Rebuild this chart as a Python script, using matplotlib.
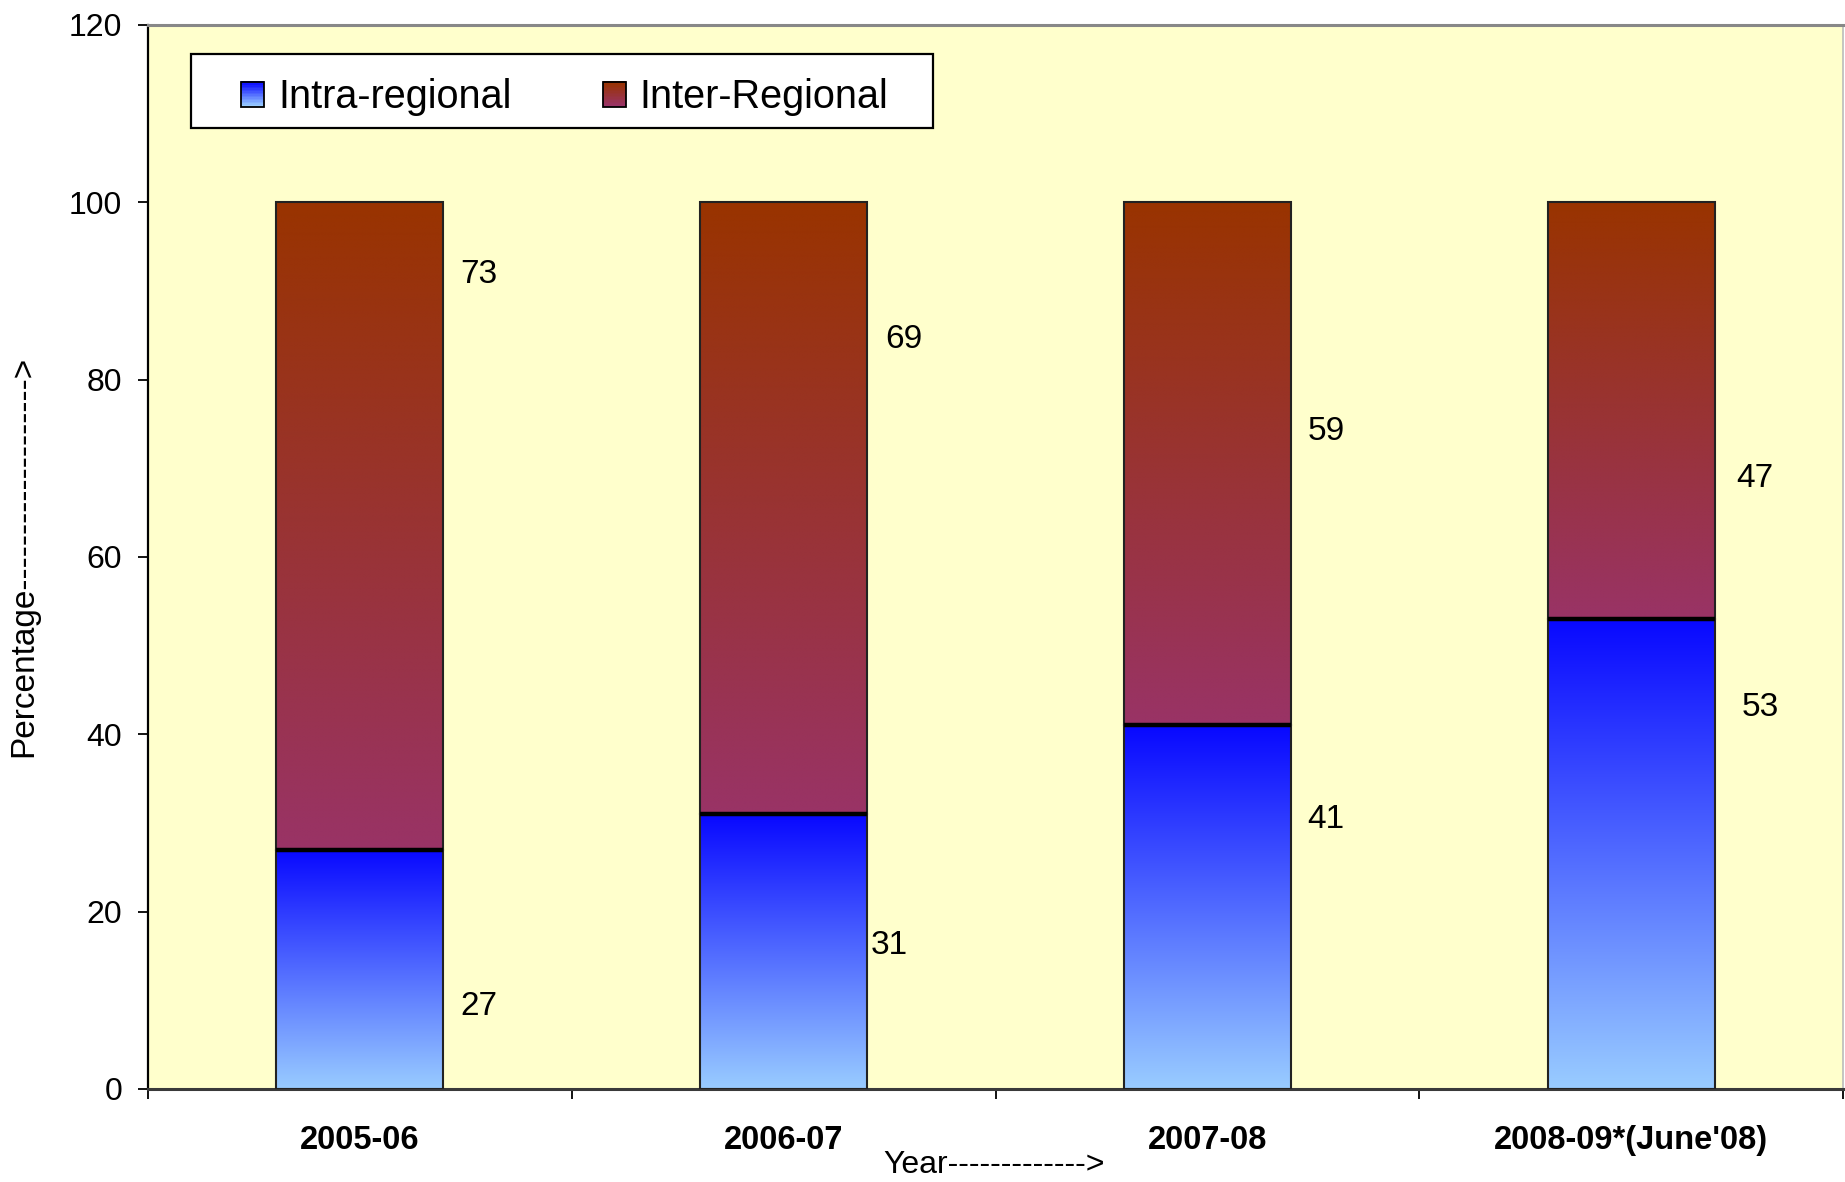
import numpy as np
import matplotlib
matplotlib.use('Agg')
import matplotlib.pyplot as plt
from matplotlib.patches import Rectangle
from matplotlib.legend_handler import HandlerBase
from matplotlib.colors import to_rgb

plt.rcParams['font.family'] = ['Liberation Sans', 'DejaVu Sans']

# Share of trade by year (percent)
years = ['2005-06', '2006-07', '2007-08', "2008-09*(June'08)"]
intra = [27, 31, 41, 53]
inter = [73, 69, 59, 47]

# where the value labels sit (y in data units, x offset from bar edge)
intra_label_y = [9.3, 16.2, 30.4, 43.0]
inter_label_y = [91.9, 84.5, 74.1, 68.8]
intra_label_dx = [0.039, 0.008, 0.039, 0.064]
inter_label_dx = [0.039, 0.042, 0.039, 0.050]

BLUE_TOP, BLUE_BOT = '#0808FF', '#99CCFF'
RED_TOP, RED_BOT = '#993300', '#993366'
BG = '#FFFFCC'


def gradient(top, bottom, n=256):
    t = np.linspace(0, 1, n)[:, None]
    c0, c1 = np.array(to_rgb(top)), np.array(to_rgb(bottom))
    return (c0 * (1 - t) + c1 * t)[:, None, :]


class GradientHandler(HandlerBase):
    def __init__(self, top, bottom):
        super().__init__()
        self.top, self.bottom = top, bottom

    def create_artists(self, legend, orig_handle, xdescent, ydescent,
                       width, height, fontsize, trans):
        n = 16
        c0, c1 = np.array(to_rgb(self.top)), np.array(to_rgb(self.bottom))
        arts = []
        for i in range(n):
            t = i / (n - 1)
            col = c1 * (1 - t) + c0 * t
            r = Rectangle((-xdescent, -ydescent + height * i / n), width, height / n + 0.3,
                          facecolor=col, edgecolor='none', transform=trans)
            arts.append(r)
        arts.append(Rectangle((-xdescent, -ydescent), width, height, fill=False,
                              edgecolor='black', linewidth=1.3, transform=trans))
        return arts


fig = plt.figure(figsize=(18.45, 11.82), dpi=100)
ax = fig.add_axes([0.0802, 0.0787, 0.9188, 0.9003])
ax.set_facecolor(BG)

x = np.arange(len(years))
w = 0.394

bars_intra = ax.bar(x, intra, w, facecolor='none', edgecolor='#222222', linewidth=1.5, zorder=3)
bars_inter = ax.bar(x, inter, w, bottom=intra, facecolor='none', edgecolor='#222222',
                    linewidth=1.5, zorder=3)

for b in bars_intra:
    x0, y0 = b.get_x(), b.get_y()
    ax.imshow(gradient(BLUE_TOP, BLUE_BOT), extent=[x0, x0 + b.get_width(), y0, y0 + b.get_height()],
              aspect='auto', interpolation='bilinear', zorder=2, origin='upper')
for b in bars_inter:
    x0, y0 = b.get_x(), b.get_y()
    ax.imshow(gradient(RED_TOP, RED_BOT), extent=[x0, x0 + b.get_width(), y0, y0 + b.get_height()],
              aspect='auto', interpolation='bilinear', zorder=2, origin='upper')

# boundary line between the two segments
for xi, v in zip(x, intra):
    ax.plot([xi - w / 2, xi + w / 2], [v, v], color='black', linewidth=3.2, zorder=4,
            solid_capstyle='butt')

for xi, v, ly, dx in zip(x, intra, intra_label_y, intra_label_dx):
    ax.text(xi + w / 2 + dx, ly, f'{v}', fontsize=24, va='center', ha='left')
for xi, v, ly, dx in zip(x, inter, inter_label_y, inter_label_dx):
    ax.text(xi + w / 2 + dx, ly, f'{v}', fontsize=24, va='center', ha='left')

ax.set_xlim(-0.5, len(years) - 0.5)
ax.set_ylim(0, 120)
ax.set_yticks(range(0, 121, 20))
ax.tick_params(axis='y', direction='out', length=7.5, width=1.3, labelsize=23, pad=11)

ax.set_xticks(np.arange(-0.5, len(years)), minor=False)
ax.set_xticklabels([])
ax.tick_params(axis='x', which='major', direction='out', length=7.5, width=1.3)
ax.set_xticks(x, minor=True)
ax.set_xticklabels(years, minor=True, fontsize=23.5, fontweight='bold')
ax.tick_params(axis='x', which='minor', length=0, pad=26)

ax.spines['left'].set_color('black')
ax.spines['left'].set_linewidth(1.6)
ax.spines['bottom'].set_color('#3a3a3a')
ax.spines['bottom'].set_linewidth(2.2)
ax.spines['top'].set_color('#888888')
ax.spines['top'].set_linewidth(2.2)
ax.spines['right'].set_color('#bbbbbb')
ax.spines['right'].set_linewidth(1.2)

# legend frame drawn by hand, entries placed inside it
ax.add_patch(Rectangle((0.0254, 0.903), 0.4377, 0.070, transform=ax.transAxes,
                       facecolor='white', edgecolor='black', linewidth=1.6, zorder=5))
h1 = Rectangle((0, 0), 1, 1)
h2 = Rectangle((0, 0), 1, 1)
ax.legend([h1, h2], ['Intra-regional', 'Inter-Regional'], ncol=2, frameon=False,
          loc='center left', bbox_to_anchor=(0.0549, 0.932), borderaxespad=0, borderpad=0,
          fontsize=28.5, handlelength=0.58, handleheight=0.58, handletextpad=0.36,
          columnspacing=2.3,
          handler_map={h1: GradientHandler(BLUE_TOP, BLUE_BOT),
                       h2: GradientHandler(RED_TOP, RED_BOT)}).set_zorder(6)

fig.text(24 / 1845, 0.529, 'Percentage------------------->', rotation=90, fontsize=24,
         ha='center', va='center')
fig.text(0.539, 0.0144, 'Year------------->', fontsize=23, ha='center', va='center')

fig.savefig('out.png', dpi=100, facecolor='white')
